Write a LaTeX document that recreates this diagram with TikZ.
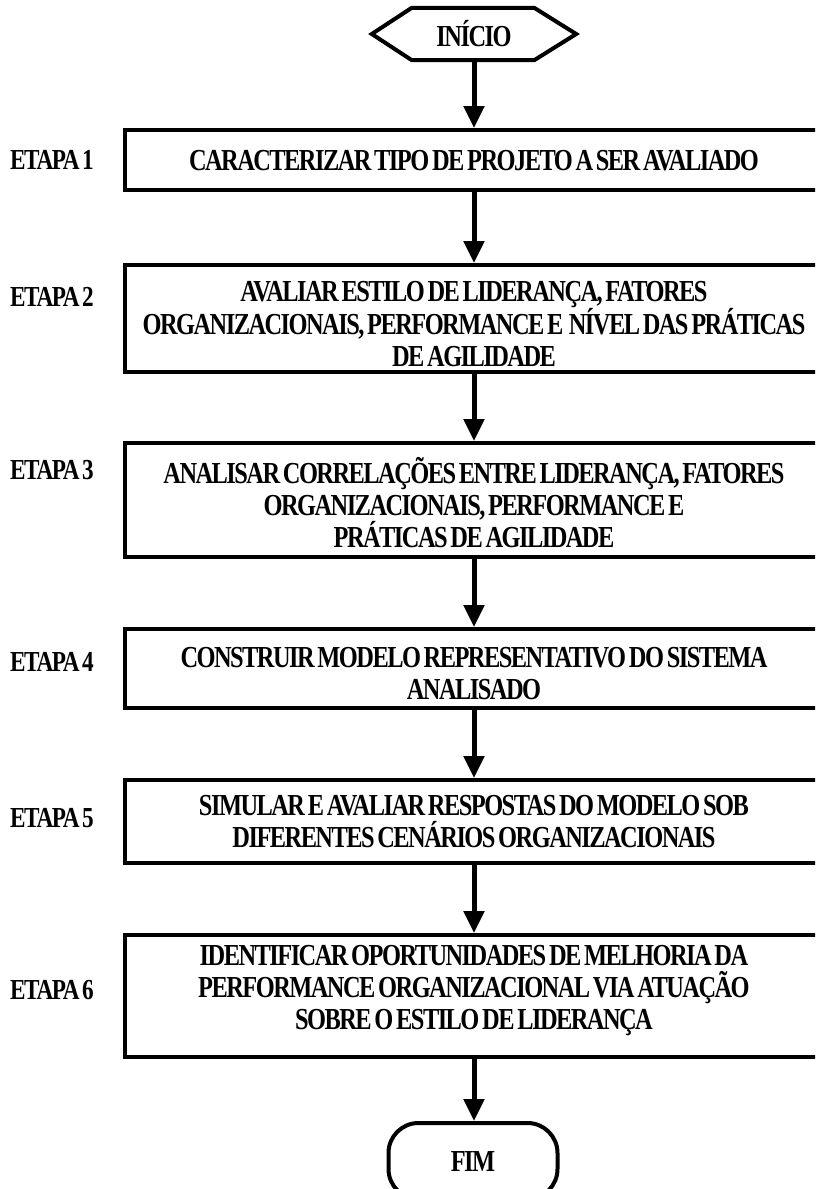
\documentclass[tikz,border=0pt]{standalone}
\usepackage{fontspec}
\setmainfont{Liberation Serif}[FakeStretch=0.8, LetterSpace=-5, WordSpace=0.6]
\usetikzlibrary{arrows.meta}
\begin{document}
\begin{tikzpicture}[x=1pt,y=-1pt,
  stepbox/.style={draw, line width=4pt, minimum width=698pt, inner sep=0pt},
  steptext/.style={inner sep=0pt, align=center, font=\bfseries\fontsize{30.5}{32}\selectfont},
  etapa/.style={anchor=west, inner sep=0pt, font=\bfseries\fontsize{29}{30}\selectfont},
  flow/.style={line width=5pt, -{Triangle[width=20pt,length=22pt]}},
  term/.style={line width=4pt}]
\path[use as bounding box, clip] (0,0) rectangle (815,1189);

% start terminal (hexagon)
\node[minimum width=204pt, minimum height=52pt, inner sep=0pt,
      font=\bfseries\fontsize{30.5}{32}\selectfont] (inicio) at (474,34) {INÍCIO};
\draw[term, line join=miter]
  (inicio.west) -- ([xshift=40pt]inicio.north west) -- ([xshift=-42pt]inicio.north east)
  -- (inicio.east) -- ([xshift=-42pt]inicio.south east) -- ([xshift=40pt]inicio.south west) -- cycle;

% process steps: frames
\node[stepbox, minimum height=60pt]  (s1) at (474,160)   {};
\node[stepbox, minimum height=107pt] (s2) at (474,318.5) {};
\node[stepbox, minimum height=114pt] (s3) at (474,500)   {};
\node[stepbox, minimum height=79pt]  (s4) at (474,668.5) {};
\node[stepbox, minimum height=83pt]  (s5) at (474,821.5) {};
\node[stepbox, minimum height=122pt] (s6) at (474,996)   {};

% process steps: texts
\node[steptext] (t1) at (474,161) {CARACTERIZAR TIPO DE PROJETO A SER AVALIADO};
\node[steptext] (t2) at (474,324) {AVALIAR ESTILO DE LIDERANÇA, FATORES\\ORGANIZACIONAIS, PERFORMANCE E \ NÍVEL DAS PRÁTICAS\\DE AGILIDADE};
\node[steptext] (t3) at (474,503) {ANALISAR CORRELAÇÕES ENTRE LIDERANÇA, FATORES\\ORGANIZACIONAIS, PERFORMANCE E\\PRÁTICAS DE AGILIDADE};
\node[steptext] (t4) at (474,674) {CONSTRUIR MODELO REPRESENTATIVO DO SISTEMA\\ANALISADO};
\node[steptext] (t5) at (474,822) {SIMULAR E AVALIAR RESPOSTAS DO MODELO SOB\\DIFERENTES CENÁRIOS ORGANIZACIONAIS};
\node[steptext] (t6) at (474,991) {IDENTIFICAR OPORTUNIDADES DE MELHORIA DA\\PERFORMANCE ORGANIZACIONAL VIA ATUAÇÃO\\SOBRE O ESTILO DE LIDERANÇA};

% end terminal
\node[draw, term, rounded corners=30pt, minimum width=169pt, minimum height=76pt, inner sep=0pt,
      font=\bfseries\fontsize{30.5}{32}\selectfont] (fim) at (473,1161) {FIM};

% step labels
\node[etapa] (e1) at (10,160) {ETAPA 1};
\node[etapa] (e2) at (10,297) {ETAPA 2};
\node[etapa] (e3) at (10,470) {ETAPA 3};
\node[etapa] (e4) at (10,662) {ETAPA 4};
\node[etapa] (e5) at (10,818) {ETAPA 5};
\node[etapa] (e6) at (10,990) {ETAPA 6};

% connectors
\draw[flow] (inicio.south) -- (s1.north);
\draw[flow] (s1) -- (s2);
\draw[flow] (s2) -- (s3);
\draw[flow] (s3) -- (s4);
\draw[flow] (s4) -- (s5);
\draw[flow] (s5) -- (s6);
\draw[flow] (s6) -- (s6 |- fim.north);
\end{tikzpicture}
\end{document}
